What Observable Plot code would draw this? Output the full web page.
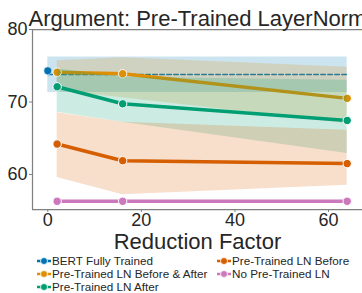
<!DOCTYPE html>
<html>
<head>
<meta charset="utf-8">
<script src="https://cdn.jsdelivr.net/npm/d3@7"></script>
<script src="https://cdn.jsdelivr.net/npm/@observablehq/plot@0.6"></script>
<style>
  html, body { margin: 0; padding: 0; background: white; overflow: hidden; }
  #wrap { position: relative; width: 362px; height: 293px; overflow: hidden; font-family: "Liberation Sans", Arial, sans-serif; }
  #legend { position: absolute; left: 37px; top: 254px; display: grid; grid-template-columns: 180px auto; grid-template-rows: repeat(3, 13px); grid-auto-flow: column; font-size: 11.7px; color: #262626; }
  .item { display: flex; align-items: center; white-space: nowrap; height: 13px; }
  .item svg { margin-right: 1px; }
</style>
</head>
<body>
<div id="wrap"><div id="chart"></div><div id="legend"></div></div>
<script>
const titleText = "Argument: Pre-Trained LayerNorm";
const xLabel = "Reduction Factor";
const xTicks = [0, 20, 40, 60];
const yTicks = [60, 70, 80];

const reduction = [2, 16, 64];
const seriesNames = ["BERT Fully Trained", "Pre-Trained LN Before & After", "Pre-Trained LN After", "Pre-Trained LN Before", "No Pre-Trained LN"];
const colors = ["#0173B2", "#DE8F05", "#029E73", "#D55E00", "#CC78BC"];

// BERT reference
const bertX = [0, 64];
const bertPoint = 74.3;
const bertMean = 73.8;
const bertLow = 71.3;
const bertHigh = 76.2;

// Pre-Trained LN Before & After
const baMean = [74.1, 73.9, 70.5];
const baLow = [71.5, 70.6, 67.0];
const baHigh = [75.7, 76.1, 74.8];
// Pre-Trained LN After
const afMean = [72.1, 69.75, 67.45];
const afLow = [68.6, 67.2, 62.9];
const afHigh = [74.6, 73.4, 73.0];
// Pre-Trained LN Before
const bfMean = [64.2, 61.9, 61.5];
const bfLow = [59.6, 57.2, 58.5];
const bfHigh = [68.5, 67.2, 66.1];
// No Pre-Trained LN
const noMean = [56.3, 56.3, 56.3];

const xDomain = [-3.27, 67.27];
const yDomain = [55.17, 80];

const series = [
  {name: seriesNames[1], color: colors[1], mean: baMean, low: baLow, high: baHigh},
  {name: seriesNames[2], color: colors[2], mean: afMean, low: afLow, high: afHigh},
  {name: seriesNames[3], color: colors[3], mean: bfMean, low: bfLow, high: bfHigh},
  {name: seriesNames[4], color: colors[4], mean: noMean, low: noMean, high: noMean}
];
const rows = s => reduction.map((x, i) => ({x, y: s.mean[i], lo: s.low[i], hi: s.high[i]}));
const bertRows = bertX.map(x => ({x, y: bertMean, lo: bertLow, hi: bertHigh}));

const spine = "#808080";
const textColor = "#262626";

const marks = [
  Plot.areaY(bertRows, {x: "x", y1: "lo", y2: "hi", fill: colors[0], fillOpacity: 0.2}),
  Plot.lineY(bertRows, {x: "x", y: "y", stroke: colors[0], strokeWidth: 1.5, strokeDasharray: "4.5,2.5"}),
  Plot.dot([{x: bertX[0], y: bertPoint}], {x: "x", y: "y", r: 4, fill: colors[0], stroke: "white", strokeWidth: 0.6})
];
for (const s of series) {
  const d = rows(s);
  marks.push(Plot.areaY(d, {x: "x", y1: "lo", y2: "hi", fill: s.color, fillOpacity: 0.2}));
  marks.push(Plot.lineY(d, {x: "x", y: "y", stroke: s.color, strokeWidth: 3.5}));
  marks.push(Plot.dot(d, {x: "x", y: "y", r: 4.2, fill: s.color, stroke: "white", strokeWidth: 1}));
}
marks.push(
  Plot.ruleY([yDomain[1]], {stroke: spine, strokeWidth: 1.25}),
  Plot.ruleY([yDomain[0]], {stroke: spine, strokeWidth: 1.25}),
  Plot.ruleX([xDomain[0]], {stroke: spine, strokeWidth: 1.25}),
  Plot.axisX({ticks: xTicks, tickSize: 3, tickPadding: 1, fontSize: 18, label: null, stroke: spine, fill: textColor}),
  Plot.axisY({ticks: yTicks, tickSize: 3, tickPadding: 2, fontSize: 18, label: null, stroke: spine, fill: textColor}),
  Plot.text([titleText], {frameAnchor: "top", lineAnchor: "bottom", dy: -4, fontSize: 22, fill: textColor}),
  Plot.text([xLabel], {frameAnchor: "bottom", lineAnchor: "bottom", dy: 39, fontSize: 22, fill: textColor})
);

const chart = Plot.plot({
  width: 362, height: 252,
  marginLeft: 32, marginRight: 0, marginTop: 29, marginBottom: 43,
  x: {domain: xDomain},
  y: {domain: yDomain},
  style: {fontFamily: "'Liberation Sans', Arial, sans-serif", background: "white", overflow: "hidden"},
  marks
});
document.getElementById("chart").appendChild(chart);

const legend = document.getElementById("legend");
seriesNames.forEach((name, i) => {
  const item = document.createElement("div");
  item.className = "item";
  item.innerHTML = `<svg width="14" height="10"><line x1="0" y1="5" x2="14" y2="5" stroke="${colors[i]}" stroke-width="2.5"/><circle cx="7" cy="5" r="3.5" fill="${colors[i]}" stroke="white" stroke-width="0.8"/></svg><span>${name}</span>`;
  legend.appendChild(item);
});
</script>
</body>
</html>
